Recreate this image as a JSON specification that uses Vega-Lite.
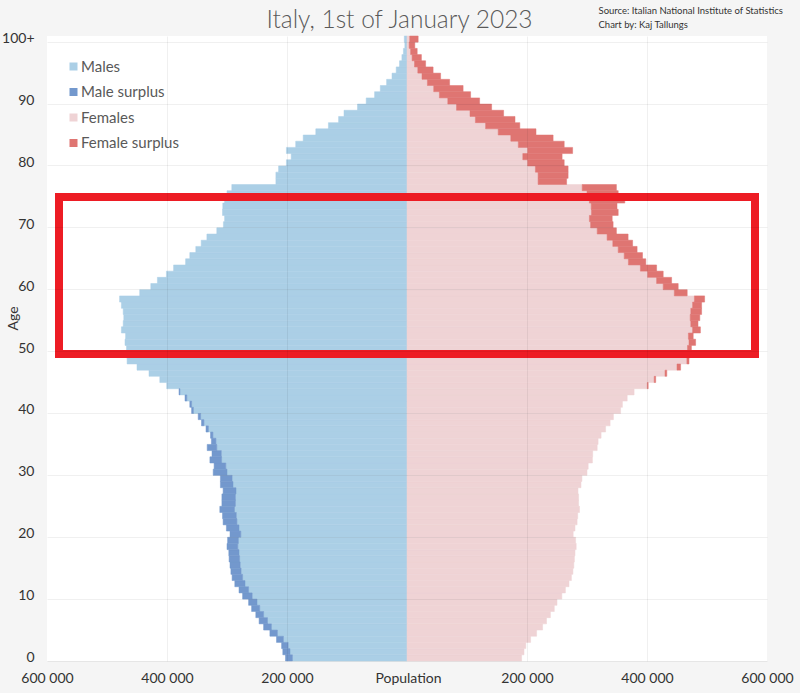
{
  "$schema": "https://vega.github.io/schema/vega-lite/v6.json",
  "width": 720,
  "height": 625,
  "autosize": {"type": "none"},
  "padding": {"left": 47, "top": 36, "right": 33, "bottom": 32},
  "background": "#f5f5f5",
  "data": {"values": [
    {"age": 0, "male": 202500, "female": 191000},
    {"age": 1, "male": 207000, "female": 195000},
    {"age": 2, "male": 209000, "female": 198000},
    {"age": 3, "male": 217500, "female": 206000},
    {"age": 4, "male": 228500, "female": 216000},
    {"age": 5, "male": 239000, "female": 226000},
    {"age": 6, "male": 246500, "female": 232500},
    {"age": 7, "male": 252000, "female": 239000},
    {"age": 8, "male": 259000, "female": 245500},
    {"age": 9, "male": 264000, "female": 250000},
    {"age": 10, "male": 274000, "female": 258000},
    {"age": 11, "male": 280000, "female": 264000},
    {"age": 12, "male": 287000, "female": 270000},
    {"age": 13, "male": 291500, "female": 274000},
    {"age": 14, "male": 293500, "female": 276500},
    {"age": 15, "male": 295000, "female": 278000},
    {"age": 16, "male": 296500, "female": 279000},
    {"age": 17, "male": 297000, "female": 280000},
    {"age": 18, "male": 300000, "female": 282000},
    {"age": 19, "male": 299000, "female": 281000},
    {"age": 20, "male": 295000, "female": 277000},
    {"age": 21, "male": 301000, "female": 280000},
    {"age": 22, "male": 306500, "female": 283500},
    {"age": 23, "male": 307500, "female": 284500},
    {"age": 24, "male": 312000, "female": 287500},
    {"age": 25, "male": 308500, "female": 286000},
    {"age": 26, "male": 308500, "female": 286000},
    {"age": 27, "male": 306500, "female": 285000},
    {"age": 28, "male": 311000, "female": 290000},
    {"age": 29, "male": 311000, "female": 291500},
    {"age": 30, "male": 323000, "female": 300000},
    {"age": 31, "male": 321500, "female": 302000},
    {"age": 32, "male": 328500, "female": 309000},
    {"age": 33, "male": 325000, "female": 309500},
    {"age": 34, "male": 333000, "female": 317000},
    {"age": 35, "male": 326000, "female": 318500},
    {"age": 36, "male": 327500, "female": 323500},
    {"age": 37, "male": 335000, "female": 331000},
    {"age": 38, "male": 342500, "female": 338500},
    {"age": 39, "male": 348000, "female": 344000},
    {"age": 40, "male": 359000, "female": 356000},
    {"age": 41, "male": 362000, "female": 359000},
    {"age": 42, "male": 370000, "female": 367000},
    {"age": 43, "male": 380000, "female": 378500},
    {"age": 44, "male": 400500, "female": 402000},
    {"age": 45, "male": 412000, "female": 414500},
    {"age": 46, "male": 430000, "female": 433000},
    {"age": 47, "male": 450000, "female": 456000},
    {"age": 48, "male": 466500, "female": 470000},
    {"age": 49, "male": 467500, "female": 472000},
    {"age": 50, "male": 467500, "female": 474000},
    {"age": 51, "male": 470000, "female": 481000},
    {"age": 52, "male": 469000, "female": 477000},
    {"age": 53, "male": 476000, "female": 489000},
    {"age": 54, "male": 473000, "female": 485000},
    {"age": 55, "male": 472000, "female": 488000},
    {"age": 56, "male": 473000, "female": 491000},
    {"age": 57, "male": 476000, "female": 491000},
    {"age": 58, "male": 479000, "female": 496000},
    {"age": 59, "male": 445500, "female": 467000},
    {"age": 60, "male": 427000, "female": 452000},
    {"age": 61, "male": 416000, "female": 441000},
    {"age": 62, "male": 401000, "female": 427000},
    {"age": 63, "male": 389000, "female": 416000},
    {"age": 64, "male": 369000, "female": 398000},
    {"age": 65, "male": 362000, "female": 392500},
    {"age": 66, "male": 352000, "female": 383500},
    {"age": 67, "male": 343000, "female": 376000},
    {"age": 68, "male": 333500, "female": 368500},
    {"age": 69, "male": 317000, "female": 349000},
    {"age": 70, "male": 306000, "female": 343500},
    {"age": 71, "male": 304000, "female": 342000},
    {"age": 72, "male": 307500, "female": 352000},
    {"age": 73, "male": 307000, "female": 350000},
    {"age": 74, "male": 304000, "female": 363000},
    {"age": 75, "male": 300000, "female": 352000},
    {"age": 76, "male": 292000, "female": 349000},
    {"age": 77, "male": 218500, "female": 266000},
    {"age": 78, "male": 218500, "female": 268500},
    {"age": 79, "male": 214000, "female": 268500},
    {"age": 80, "male": 201000, "female": 262000},
    {"age": 81, "male": 193000, "female": 258500},
    {"age": 82, "male": 201000, "female": 276000},
    {"age": 83, "male": 185500, "female": 262000},
    {"age": 84, "male": 173000, "female": 243500},
    {"age": 85, "male": 152000, "female": 215000},
    {"age": 86, "male": 131000, "female": 188000},
    {"age": 87, "male": 114000, "female": 180000},
    {"age": 88, "male": 105000, "female": 161000},
    {"age": 89, "male": 82500, "female": 141000},
    {"age": 90, "male": 68000, "female": 121000},
    {"age": 91, "male": 54000, "female": 106000},
    {"age": 92, "male": 44500, "female": 93500},
    {"age": 93, "male": 34000, "female": 71000},
    {"age": 94, "male": 25000, "female": 56000},
    {"age": 95, "male": 18000, "female": 43500},
    {"age": 96, "male": 12500, "female": 31000},
    {"age": 97, "male": 8500, "female": 24000},
    {"age": 98, "male": 6000, "female": 17000},
    {"age": 99, "male": 3600, "female": 13000},
    {"age": 100, "male": 4500, "female": 18600}
  ]},
  "layer": [
    {
      "encoding": {
        "y": {"field": "age", "type": "ordinal", "scale": {"reverse": true, "paddingInner": 0, "paddingOuter": 0},
          "axis": {"values": [0,10,20,30,40,50,60,70,80,90,100], "labelExpr": "datum.value == 100 ? '100+' : datum.label", "grid": false, "ticks": false, "domain": false, "labelPadding": 13, "labelFontSize": 14, "labelColor": "#333", "title": "Age", "titleX": -34, "titleY": 282, "titleAngle": -90, "titleAlign": "center", "titleBaseline": "middle", "titleFontSize": 14, "titleFontWeight": "normal", "titleColor": "#333"}}
      },
      "layer": [
        {
          "transform": [{"filter": "datum.male <= datum.female"}],
          "mark": {"type": "bar", "stroke": "#abcfe6", "strokeWidth": 0.5},
          "encoding": {
            "x": {"field": "male", "type": "quantitative", "scale": {"domain": [-600000, 600000], "reverse": true},
              "axis": {"orient": "top", "labels": false, "grid": false, "ticks": false, "domain": false, "title": "Italy, 1st of January 2023", "titleFontSize": 24.5, "titleFontWeight": 300, "titleColor": "#595959", "titleAlign": "center", "titleAnchor": "middle", "titleBaseline": "alphabetic", "titleX": 352, "titleY": -9}},
            "color": {"datum": "Males", "type": "nominal", "title": null, "scale": {"domain": ["Males", "Male surplus", "Females", "Female surplus"], "range": ["#abcfe6", "#7398cd", "#efd3d5", "#df7572"]}}
          }
        },
        {
          "transform": [{"filter": "datum.male > datum.female"}],
          "mark": {"type": "bar", "stroke": "#abcfe6", "strokeWidth": 0.5},
          "encoding": {
            "x": {"field": "female", "type": "quantitative", "scale": {"domain": [-600000, 600000], "reverse": true}},
            "color": {"datum": "Males", "type": "nominal", "title": null, "scale": {"domain": ["Males", "Male surplus", "Females", "Female surplus"], "range": ["#abcfe6", "#7398cd", "#efd3d5", "#df7572"]}}
          }
        },
        {
          "transform": [{"filter": "datum.male > datum.female"}],
          "mark": {"type": "bar", "stroke": "#7398cd", "strokeWidth": 0.5},
          "encoding": {
            "x": {"field": "female", "type": "quantitative", "scale": {"domain": [-600000, 600000], "reverse": true}},
            "x2": {"field": "male"},
            "color": {"datum": "Male surplus", "type": "nominal", "title": null, "scale": {"domain": ["Males", "Male surplus", "Females", "Female surplus"], "range": ["#abcfe6", "#7398cd", "#efd3d5", "#df7572"]}}
          }
        }
      ]
    },
    {
      "encoding": {
        "y": {"field": "age", "type": "ordinal", "scale": {"reverse": true, "paddingInner": 0, "paddingOuter": 0},
          "axis": {"orient": "right", "values": [0,10,20,30,40,50,60,70,80,90,100], "labels": false, "ticks": false, "domain": false, "grid": true, "bandPosition": 1, "gridColor": "#000000", "gridOpacity": 0.06, "zindex": 1, "title": ["Source: Italian National Institute of Statistics", "Chart by: Kaj Tallungs"], "titleAngle": 0, "titleFontSize": 9.5, "titleFontWeight": "normal", "titleColor": "#333", "titleAlign": "left", "titleBaseline": "top", "titleX": -169, "titleY": -31, "titleLineHeight": 14}}
      },
      "layer": [
        {
          "transform": [{"filter": "datum.female <= datum.male"}],
          "mark": {"type": "bar", "stroke": "#efd3d5", "strokeWidth": 0.5},
          "encoding": {
            "x": {"field": "female", "type": "quantitative", "scale": {"domain": [-600000, 600000]},
              "axis": {"values": [-600000, -400000, -200000, 0, 200000, 400000, 600000], "labelExpr": "datum.value == 0 ? '' : replace(format(abs(datum.value), ','), ',', ' ')", "labelFlush": false, "labelOverlap": false, "labelBound": false, "ticks": false, "tickSize": 0, "domain": false, "labelBaseline": "middle", "labelPadding": 17, "labelFontSize": 14, "labelColor": "#333", "grid": true, "gridColor": "#000000", "gridOpacity": {"condition": {"test": "abs(datum.value) == 600000 || datum.value == 0", "value": 0}, "value": 0.06}, "zindex": 1, "title": "Population", "titleX": 361, "titleY": 17, "titleBaseline": "middle", "titleAlign": "center", "titleFontSize": 14, "titleFontWeight": "normal", "titleColor": "#333"}},
            "color": {"datum": "Females", "type": "nominal", "title": null, "scale": {"domain": ["Males", "Male surplus", "Females", "Female surplus"], "range": ["#abcfe6", "#7398cd", "#efd3d5", "#df7572"]}}
          }
        },
        {
          "transform": [{"filter": "datum.female > datum.male"}],
          "mark": {"type": "bar", "stroke": "#efd3d5", "strokeWidth": 0.5},
          "encoding": {
            "x": {"field": "male", "type": "quantitative", "scale": {"domain": [-600000, 600000]}},
            "color": {"datum": "Females", "type": "nominal", "title": null, "scale": {"domain": ["Males", "Male surplus", "Females", "Female surplus"], "range": ["#abcfe6", "#7398cd", "#efd3d5", "#df7572"]}}
          }
        },
        {
          "transform": [{"filter": "datum.female > datum.male"}],
          "mark": {"type": "bar", "stroke": "#df7572", "strokeWidth": 0.5},
          "encoding": {
            "x": {"field": "male", "type": "quantitative", "scale": {"domain": [-600000, 600000]}},
            "x2": {"field": "female"},
            "color": {"datum": "Female surplus", "type": "nominal", "title": null, "scale": {"domain": ["Males", "Male surplus", "Females", "Female surplus"], "range": ["#abcfe6", "#7398cd", "#efd3d5", "#df7572"]}}
          }
        },
        {
          "data": {"values": [{"left": -580000, "right": 580000, "top": 74, "bottom": 49}]},
          "mark": {"type": "rect", "filled": false, "stroke": "#ed1c24", "strokeWidth": 8},
          "encoding": {
            "x": {"field": "left", "type": "quantitative", "scale": {"domain": [-600000, 600000]}},
            "x2": {"field": "right"},
            "y": {"field": "top", "type": "ordinal", "scale": {"reverse": true}, "bandPosition": 0},
            "y2": {"field": "bottom", "bandPosition": 0.4}
          }
        }
      ]
    }
  ],
  "resolve": {"scale": {"x": "independent"}, "axis": {"x": "independent", "y": "independent"}},
  "config": {
    "font": "Lato",
    "view": {"stroke": null, "fill": "white"},
    "axis": {"labelFont": "Lato", "titleFont": "Lato"},
    "legend": {"orient": "none", "legendX": 19, "legendY": 23, "labelFontSize": 15, "labelColor": "#595959", "labelFont": "Lato", "symbolType": "square", "symbolSize": 64, "symbolStrokeWidth": 0, "rowPadding": 9.5, "padding": 0, "labelOffset": 0}
  }
}
